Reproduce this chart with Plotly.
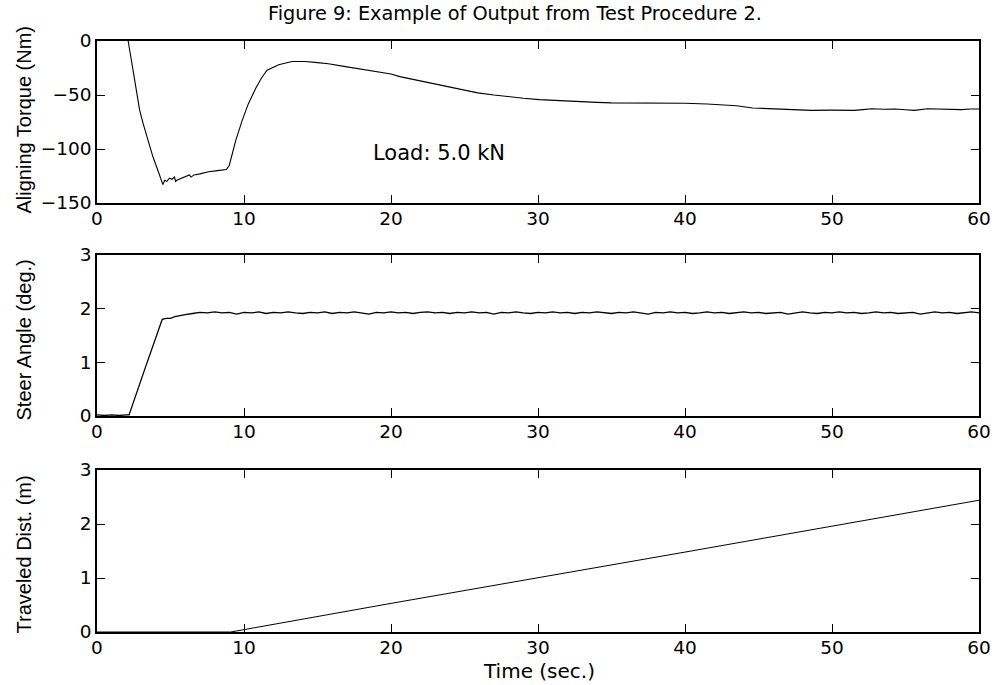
import plotly.graph_objects as go

# ---- data ----
torque_t = [1.95, 2.12, 2.45, 2.9, 3.13, 3.8, 4.2, 4.48, 4.6, 4.75, 4.93, 5.1, 5.27, 5.35, 5.43,
            5.8, 6.28, 6.4, 6.6, 7.0, 7.6, 8.2, 8.8, 9.0, 9.44, 9.89, 10.3, 10.79, 11.2, 11.57,
            12.0, 12.36, 13.27, 14.17, 15.0, 15.74, 16.8, 18.0, 19.0, 20.0, 20.6, 21.5, 22.5,
            23.5, 24.5, 25.2, 25.9, 27.0, 28.1, 29.0, 30.1, 31.3, 32.6, 34.0, 35.0, 36.0, 37.3,
            38.5, 40.0, 41.5, 42.5, 43.5, 44.6, 45.6, 46.6, 47.6, 48.6, 50.0, 51.5, 52.1, 52.7,
            53.5, 54.3, 55.0, 55.6, 56.5, 57.6, 58.8, 59.4, 60.0]
torque_v = [8, 0, -27, -64, -76, -107, -122, -133, -129, -130, -127, -128, -126, -130, -129,
            -127, -124, -126, -124, -123, -121, -120, -119, -115, -92, -73, -58, -44, -34, -27,
            -24, -22, -19, -19, -20, -21, -23.5, -26, -28, -30.5, -33, -35.5, -38,
            -41, -44, -46, -48, -50, -52, -53, -54.3, -55.2, -56.2, -56.8, -57.3, -57.4, -57.0,
            -57.4, -57.6, -58.3, -59.0, -60, -62, -62.5, -63, -63.6, -64.2, -64, -64.2, -63.5, -62.7,
            -63.2, -63, -63.6, -64.2, -62.7, -63.2, -63.5, -63, -63]

steer_t = [0.0, 0.5, 1.0, 1.5, 2.0, 2.18, 3.31, 4.44, 4.7, 5.0, 5.3, 5.6, 6.0, 6.5,
           7.0, 7.5, 8.0, 8.5, 9.0, 9.5, 10.0, 10.5, 11.0, 11.5, 12.0, 12.5, 13.0, 13.5,
           14.0, 14.5, 15.0, 15.5, 16.0, 16.5, 17.0, 17.5, 18.0, 18.5, 19.0, 19.5, 20.0,
           20.5, 21.0, 21.5, 22.0, 22.5, 23.0, 23.5, 24.0, 24.5, 25.0, 25.5, 26.0, 26.5,
           27.0, 27.5, 28.0, 28.5, 29.0, 29.5, 30.0, 30.5, 31.0, 31.5, 32.0, 32.5, 33.0,
           33.5, 34.0, 34.5, 35.0, 35.5, 36.0, 36.5, 37.0, 37.5, 38.0, 38.5, 39.0, 39.5,
           40.0, 40.5, 41.0, 41.5, 42.0, 42.5, 43.0, 43.5, 44.0, 44.5, 45.0, 45.5, 46.0,
           46.5, 47.0, 47.5, 48.0, 48.5, 49.0, 49.5, 50.0, 50.5, 51.0, 51.5, 52.0, 52.5,
           53.0, 53.5, 54.0, 54.5, 55.0, 55.5, 56.0, 56.5, 57.0, 57.5, 58.0, 58.5, 59.0,
           59.5, 60.0]
steer_v = [0.02, 0.01, 0.02, 0.01, 0.02, 0.02, 0.92, 1.80, 1.82, 1.82, 1.85, 1.87, 1.89, 1.91,
           1.93, 1.92, 1.94, 1.92, 1.93, 1.90, 1.93, 1.92, 1.94, 1.91, 1.93, 1.92, 1.94, 1.92,
           1.91, 1.93, 1.92, 1.94, 1.91, 1.93, 1.92, 1.94, 1.92, 1.90, 1.93, 1.92, 1.94,
           1.92, 1.93, 1.91, 1.93, 1.94, 1.92, 1.93, 1.91, 1.93, 1.92, 1.94, 1.92, 1.93,
           1.90, 1.93, 1.92, 1.94, 1.92, 1.91, 1.93, 1.92, 1.94, 1.92, 1.93, 1.91, 1.93,
           1.92, 1.94, 1.92, 1.91, 1.93, 1.92, 1.94, 1.92, 1.90, 1.93, 1.92, 1.94, 1.92,
           1.93, 1.91, 1.92, 1.94, 1.92, 1.93, 1.91, 1.92, 1.94, 1.92, 1.93, 1.91, 1.92,
           1.93, 1.90, 1.92, 1.94, 1.92, 1.91, 1.93, 1.92, 1.94, 1.92, 1.93, 1.91, 1.92,
           1.94, 1.92, 1.93, 1.91, 1.92, 1.93, 1.90, 1.92, 1.94, 1.92, 1.93, 1.91, 1.92,
           1.94, 1.92]

dist_t = [0, 9.1, 20, 30, 40, 50, 60]
dist_v = [0, 0, 0.53, 1.0, 1.48, 1.96, 2.44]

x_ticks = [0, 10, 20, 30, 40, 50, 60]
torque_ticks = [-150, -100, -50, 0]
unit_ticks = [0, 1, 2, 3]

title_text = "Figure 9: Example of Output from Test Procedure 2."
ylabels = ["Aligning Torque (Nm)", "Steer Angle (deg.)", "Traveled Dist. (m)"]
xlabel = "Time (sec.)"
load_text = "Load: 5.0 kN"

# ---- figure ----
FONT = "DejaVu Sans"
LFONT = "Liberation Sans"

fig = go.Figure()
fig.add_trace(go.Scatter(x=torque_t, y=torque_v, mode="lines",
                         line=dict(color="black", width=1.1), xaxis="x", yaxis="y"))
fig.add_trace(go.Scatter(x=steer_t, y=steer_v, mode="lines",
                         line=dict(color="black", width=1.3), xaxis="x2", yaxis="y2"))
fig.add_trace(go.Scatter(x=dist_t, y=dist_v, mode="lines",
                         line=dict(color="black", width=1), xaxis="x3", yaxis="y3"))

W, H = 1003, 685
L, R, T, B = 97, 18, 41, 53
ph = H - T - B  # 591

def dom(top_px, bot_px):
    return [(H - B - bot_px) / ph, (H - B - top_px) / ph]

ax_common = dict(
    ticks="inside", ticklen=8, tickwidth=1, tickcolor="black",
    showline=True, linecolor="black", linewidth=1.5, mirror="ticks",
    showgrid=False, zeroline=False,
    tickfont=dict(family=FONT, size=18.5, color="black"),
)

xax = dict(range=[0, 60], tickvals=x_ticks, domain=[0, 1], ticklabelstandoff=-2, **ax_common)

fig.update_layout(
    width=W, height=H,
    margin=dict(l=L, r=R, t=T, b=B, pad=0),
    paper_bgcolor="white", plot_bgcolor="white",
    showlegend=False,
    xaxis=dict(anchor="y", **xax),
    xaxis2=dict(anchor="y2", **xax),
    xaxis3=dict(anchor="y3", **xax),
    yaxis=dict(anchor="x", range=[-150, 0], tickvals=torque_ticks, domain=dom(41, 203),
               ticklabelstandoff=0, **ax_common),
    yaxis2=dict(anchor="x2", range=[0, 3], tickvals=unit_ticks, domain=dom(255, 416),
                ticklabelstandoff=0, **ax_common),
    yaxis3=dict(anchor="x3", range=[0, 3], tickvals=unit_ticks, domain=dom(470, 632),
                ticklabelstandoff=0, **ax_common),
)

def px_x(px):
    return (px - L) / (W - L - R)

def px_y(py):
    return (H - B - py) / ph

annots = [
    dict(text=title_text, x=px_x(518), y=px_y(14), xanchor="center", yanchor="middle",
         font=dict(family=FONT, size=19.3, color="black")),
    dict(text=xlabel, x=px_x(542), y=px_y(671), xanchor="center", yanchor="middle",
         font=dict(family=FONT, size=20, color="black")),
    dict(text=ylabels[0], x=px_x(24), y=px_y(119), textangle=-90, xanchor="center", yanchor="middle",
         font=dict(family=LFONT, size=20, color="black")),
    dict(text=ylabels[1], x=px_x(24), y=px_y(340), textangle=-90, xanchor="center", yanchor="middle",
         font=dict(family=LFONT, size=20, color="black")),
    dict(text=ylabels[2], x=px_x(24), y=px_y(554), textangle=-90, xanchor="center", yanchor="middle",
         font=dict(family=LFONT, size=20, color="black")),
]
for a in annots:
    a.update(xref="paper", yref="paper", showarrow=False)
    fig.add_annotation(**a)

fig.add_annotation(text=load_text, x=18.65, y=-104, xref="x", yref="y", xanchor="left",
                   yanchor="middle", showarrow=False,
                   font=dict(family=FONT, size=21, color="black"))

fig.write_html("out.html")
